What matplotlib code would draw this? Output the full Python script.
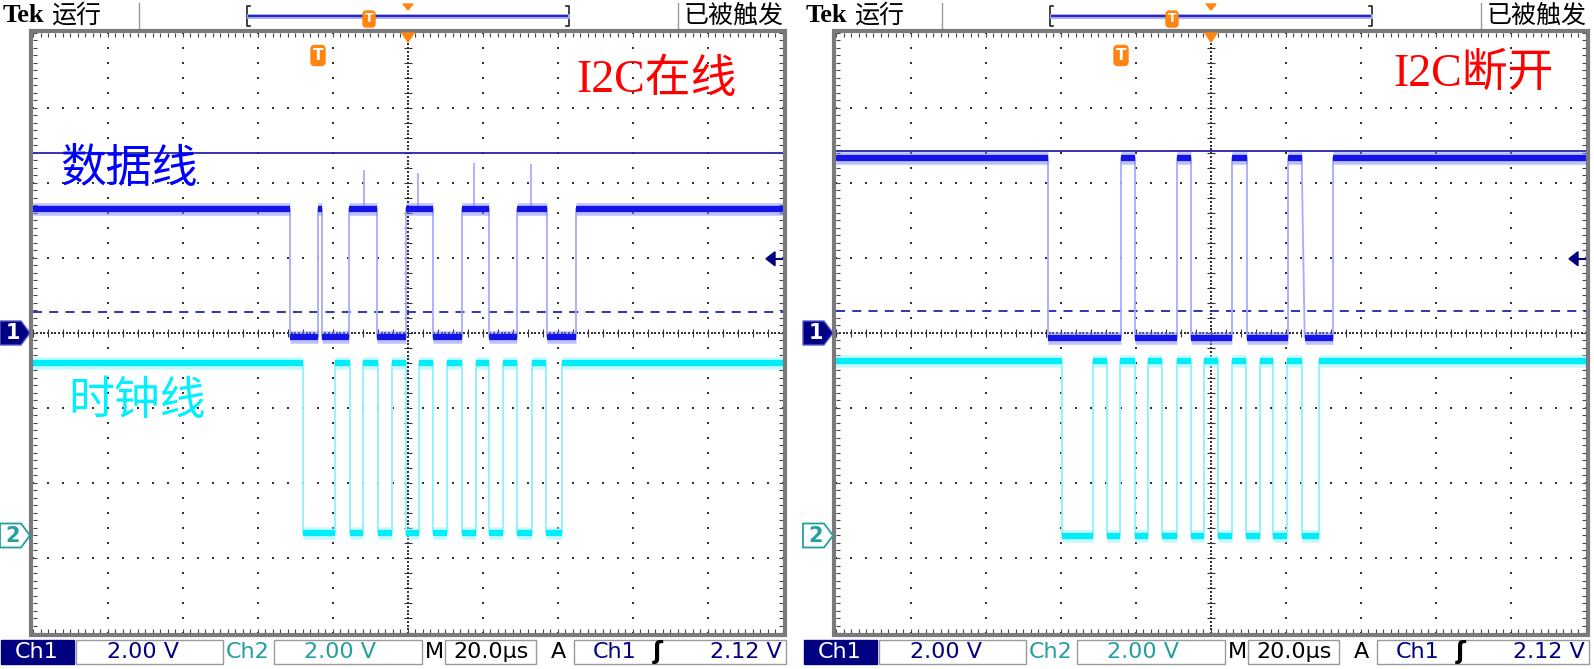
import numpy as np
import matplotlib.pyplot as plt
from matplotlib.patches import Rectangle, Polygon, FancyBboxPatch

plt.rcParams['font.family'] = ['DejaVu Sans', 'Noto Sans CJK SC']

W, H = 1594, 669

# units: x = divisions from screen centre (20 us/div), y = divisions from ch1 ground (2 V/div)
# --- left screen: I2C online
l_label = "I2C在线"
l_sda_edges = [-1.573, -1.204, -1.143, -0.782, -0.409, -0.027, 0.338, 0.716, 1.08, 1.457, 1.849, 2.24]
l_sda_hi, l_sda_lo = 1.65, -0.05
l_spike_t = [-0.587, 0.137, 0.884, 1.636]
l_spike_top = [2.18, 2.13, 2.27, 2.26]
l_scl_edges = [-1.396, -0.973, -0.773, -0.596, -0.404, -0.218, -0.027, 0.151, 0.338,
               0.524, 0.716, 0.902, 1.084, 1.271, 1.457, 1.649, 1.836, 2.049]
l_scl_hi, l_scl_lo = -0.40, -2.67
l_cursor, l_dash = 2.40, 0.28

# --- right screen: I2C disconnected
r_label = "I2C断开"
r_sda_edges = [-2.178, -1.204, -1.013, -0.458, -0.267, 0.284, 0.476, 1.031, 1.209, 1.631]
r_sda_slow = {1.209: 0.04}
r_sda_hi, r_sda_lo = 2.33, -0.06
r_scl_edges = [-1.99, -1.58, -1.39, -1.21, -1.01, -0.84, -0.65, -0.46, -0.27, -0.10,
               0.09, 0.28, 0.46, 0.65, 0.83, 1.01, 1.21, 1.44]
r_scl_hi, r_scl_lo = -0.37, -2.70
r_cursor, r_dash = 2.43, 0.30

trig_pos = -1.2
trig_level = 0.99
ch2_gnd = -2.7
sda_name, scl_name = "数据线", "时钟线"

ch1_scale, ch2_scale, timebase, trig_v = "2.00 V", "2.00 V", "20.0μs", "2.12 V"

NAVY = '#000080'
TEAL = '#22a0a0'
ORANGE = '#ff8410'
PX = 1 / 75.0  # one pixel in divisions


def trace(ax, edges, hi, lo, core, fringe, edge_c, slow=None):
    slow = slow or {}
    bounds = [-5.0] + list(edges) + [5.0]
    state = True
    for i in range(len(bounds) - 1):
        a = bounds[i] + slow.get(bounds[i], 0)
        b = bounds[i + 1]
        y = hi if state else lo
        ax.hlines(y, a, b, color=fringe, lw=9, alpha=0.5, zorder=4)
        ax.hlines(y, a, b, color=core, lw=4.5, zorder=5)
        state = not state
    state = True
    for t in edges:
        y0, y1 = (hi, lo) if state else (lo, hi)
        ax.plot([t, t + slow.get(t, 0)], [y0, y1], color=edge_c, lw=1.3, zorder=3)
        state = not state


def graticule(ax):
    ax.set_xlim(-5, 5)
    ax.set_ylim(-4, 4)
    ax.axis('off')
    dots = dict(marker='s', s=1.6, lw=0, color='#333333', zorder=2, clip_on=False)
    ys = np.arange(-4, 4.001, 0.2)
    xs = np.arange(-5, 5.001, 0.2)
    for g in [-4, -3, -2, -1, 1, 2, 3, 4]:
        ax.scatter(np.full(len(ys), g), ys, **dots)
    for g in [-3, -2, -1, 1, 2, 3]:
        ax.scatter(xs, np.full(len(xs), g), **dots)
    # centre cross
    yd = np.arange(-4, 4.001, 0.05)
    xd = np.arange(-5, 5.001, 0.05)
    ax.scatter(np.zeros(len(yd)), yd, **dots)
    ax.scatter(xd, np.zeros(len(xd)), **dots)
    ax.hlines(ys, -4 * PX, 4 * PX, color='#333333', lw=0.8, zorder=2)
    ax.vlines(xs, -4 * PX, 4 * PX, color='#333333', lw=0.8, zorder=2)
    # edge ruler ticks
    ye = np.arange(-4, 4.001, 0.1)
    xe = np.arange(-5, 5.001, 0.1)
    ax.hlines(ye, -5, -5 + 4 * PX, color='#444444', lw=0.8, zorder=2)
    ax.hlines(ye, 5 - 4 * PX, 5, color='#444444', lw=0.8, zorder=2)
    ax.vlines(xe, 4 - 4 * PX, 4, color='#444444', lw=0.8, zorder=2)
    ax.vlines(xe, -4, -4 + 4 * PX, color='#444444', lw=0.8, zorder=2)
    ax.add_patch(Rectangle((-5 - 2 * PX, -4 - 2 * PX), 10 + 4 * PX, 8 + 4 * PX, fill=False,
                           ec='#7a7a7a', lw=3.0, clip_on=False, zorder=6))


def markers(ax):
    # channel ground markers, left of the screen
    shape = np.array([(-33, -12), (-12, -12), (-3, 0), (-12, 12), (-33, 12)]) * PX
    p1 = shape + [-5, 0]
    ax.add_patch(Polygon(p1, closed=True, fc=NAVY, ec='#5a5ad0', lw=1, clip_on=False, zorder=7))
    ax.text(-5 - 20 * PX, 0, '1', color='white', fontsize=15, fontweight='bold',
            ha='center', va='center', clip_on=False, zorder=8)
    p2 = shape + [-5, ch2_gnd]
    ax.add_patch(Polygon(p2, closed=True, fc='white', ec=TEAL, lw=1.3, clip_on=False, zorder=7))
    ax.text(-5 - 20 * PX, ch2_gnd, '2', color=TEAL, fontsize=15, fontweight='bold',
            ha='center', va='center', clip_on=False, zorder=8)
    # trigger level arrow at right edge
    ax.add_patch(Polygon([(5 - 17 * PX, trig_level), (5 - 8 * PX, trig_level + 7 * PX),
                          (5 - 8 * PX, trig_level - 7 * PX)], closed=True, fc=NAVY, ec=NAVY,
                         zorder=7))
    ax.hlines(trig_level, 5 - 9 * PX, 5, color=NAVY, lw=1.5, zorder=7)
    # trigger time marker at top
    ax.add_patch(Polygon([(-6 * PX, 4), (6 * PX, 4), (0, 4 - 9 * PX)], closed=True,
                         fc=ORANGE, ec=ORANGE, clip_on=False, zorder=7))
    ax.add_patch(FancyBboxPatch((trig_pos - 7 * PX, 3.7 - 10 * PX), 14 * PX, 20 * PX,
                                boxstyle='round,pad=0,rounding_size=0.05', fc=ORANGE,
                                ec=ORANGE, zorder=7))
    ax.text(trig_pos, 3.7, 'T', color='white', fontsize=11, fontweight='bold',
            ha='center', va='center', zorder=8)


fig = plt.figure(figsize=(W / 100, H / 100), dpi=100)
ov = fig.add_axes([0, 0, 1, 1])
ov.set_xlim(0, W)
ov.set_ylim(H, 0)
ov.axis('off')

serif_cjk = ['Liberation Serif', 'Noto Sans CJK SC']

panels = [
    (33, l_sda_edges, l_sda_hi, l_sda_lo, l_scl_edges, l_scl_hi, l_scl_lo, l_cursor, l_dash,
     l_label, 2.25, 3.36, {}),
    (836, r_sda_edges, r_sda_hi, r_sda_lo, r_scl_edges, r_scl_hi, r_scl_lo, r_cursor, r_dash,
     r_label, 2.43, 3.45, r_sda_slow),
]

for (left, sda_e, sda_hi, sda_lo, scl_e, scl_hi, scl_lo, cur, dash, label, lx, ly, slow) in panels:
    ax = fig.add_axes([left / W, (H - 633) / H, 750 / W, 600 / H])
    ax.patch.set_visible(False)
    graticule(ax)
    ax.axhline(cur, color='#2424a8', lw=1.3, zorder=3)
    ax.axhline(dash, color='#2424a8', lw=1.3, ls=(0, (5, 4)), zorder=3)
    trace(ax, sda_e, sda_hi, sda_lo, '#1414e6', '#7c84ff', '#a6acff', slow)
    trace(ax, scl_e, scl_hi, scl_lo, '#00eefa', '#8af6ff', '#8ef2ff')
    if left == 33:
        ax.vlines(l_spike_t, l_sda_hi, l_spike_top, color='#a6acff', lw=1.3, zorder=3)
        ax.text(-4.64, 2.17, sda_name, color='#0000ff', fontsize=33, ha='left', va='center',
                family=serif_cjk, zorder=9)
        ax.text(-4.53, -0.93, scl_name, color='#00f0ff', fontsize=33, ha='left', va='center',
                family=serif_cjk, zorder=9)
    ax.text(lx, ly, label, color='#ff0000', fontsize=33, ha='left', va='center',
            family=serif_cjk, zorder=9)
    markers(ax)

    o = left - 33
    # header
    ov.text(o + 3, 16, 'Tek', fontsize=19, fontweight='bold', ha='left', va='center',
            family=['Liberation Serif'])
    ov.text(o + 51, 16, '运行', fontsize=18, ha='left', va='center', family=['Noto Sans CJK SC'])
    ov.text(o + 684, 16, '已被触发', fontsize=18, ha='left', va='center',
            family=['Noto Sans CJK SC'])
    for sx in (o + 139, o + 678):
        ov.plot([sx, sx], [3, 29], color='#9a9a9a', lw=1)
    ov.plot([o + 250, o + 247, o + 247, o + 250], [6, 6, 26, 26], color='#222222', lw=1.2)
    ov.plot([o + 566, o + 569, o + 569, o + 566], [6, 6, 26, 26], color='#222222', lw=1.2)
    ov.plot([o + 249, o + 567], [16, 16], color='#a8a8ff', lw=3.5)
    ov.plot([o + 249, o + 567], [16, 16], color='#2a2ab0', lw=1.5)
    ov.add_patch(FancyBboxPatch((o + 363, 11), 12, 16, boxstyle='round,pad=0,rounding_size=3',
                                fc=ORANGE, ec=ORANGE, zorder=5))
    ov.text(o + 369, 19, 'T', color='white', fontsize=9, fontweight='bold', ha='center',
            va='center', zorder=6)
    ov.add_patch(Polygon([(o + 403, 4), (o + 413, 4), (o + 408, 10)], closed=True,
                         fc=ORANGE, ec=ORANGE))
    # footer
    fy, fh, fc = 640, 24, 652
    ov.add_patch(Rectangle((o + 1, fy), 73, fh, fc=NAVY, ec=NAVY))
    ov.text(o + 37, fc, 'Ch1', color='white', fontsize=16, ha='center', va='center')
    for bx, bw in ((76, 147), (274, 148), (445, 91), (574, 212)):
        ov.add_patch(Rectangle((o + bx, fy), bw, fh, fc='white', ec='#9a9a9a', lw=1))
    ov.text(o + 143, fc, ch1_scale, color=NAVY, fontsize=16, ha='center', va='center')
    ov.text(o + 248, fc, 'Ch2', color=TEAL, fontsize=16, ha='center', va='center')
    ov.text(o + 340, fc, ch2_scale, color=TEAL, fontsize=16, ha='center', va='center')
    ov.text(o + 434, fc, 'M', color='black', fontsize=16, ha='center', va='center')
    ov.text(o + 491, fc, timebase, color='black', fontsize=16, ha='center', va='center')
    ov.text(o + 558, fc, 'A', color='black', fontsize=16, ha='center', va='center')
    ov.text(o + 615, fc, 'Ch1', color=NAVY, fontsize=16, ha='center', va='center')
    ov.text(o + 658, fc, 'ʃ', color='black', fontsize=17, fontweight='bold', ha='center',
            va='center')
    ov.text(o + 782, fc, trig_v, color=NAVY, fontsize=16, ha='right', va='center')

fig.savefig('out.png', dpi=100)
